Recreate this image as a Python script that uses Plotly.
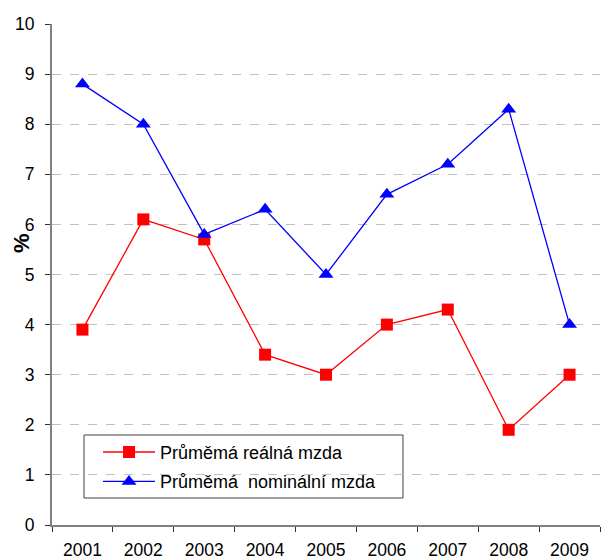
import plotly.graph_objects as go

# Years and wage growth (%)
years = ['2001', '2002', '2003', '2004', '2005', '2006', '2007', '2008', '2009']
real_wage = [3.9, 6.1, 5.7, 3.4, 3.0, 4.0, 4.3, 1.9, 3.0]
nominal_wage = [8.8, 8.0, 5.8, 6.3, 5.0, 6.6, 7.2, 8.3, 4.0]

FONT = 'Liberation Sans, Arial, sans-serif'

fig = go.Figure()

fig.add_trace(go.Scatter(
    x=years, y=real_wage, name='Průměmá reálná mzda',
    mode='lines+markers', legendgroup='a',
    line=dict(color='#ff0000', width=1.3),
    marker=dict(symbol='square', size=12, color='#ff0000')
))

fig.add_trace(go.Scatter(
    x=years, y=nominal_wage, name='Průměmá\u00a0 nominální mzda',
    mode='lines+markers', legendgroup='b',
    line=dict(color='#0000ff', width=1.3),
    marker=dict(symbol='triangle-up', size=13, color='#0000ff')
))

fig.update_xaxes(
    type='category', tickson='boundaries', ticks='outside', ticklen=5,
    tickcolor='#303030', showline=True, linecolor='#808080', linewidth=2,
    showgrid=False, tickfont=dict(family=FONT, size=17.5, color='black'),
    ticklabelstandoff=8,
    range=[-0.5, 8.5]
)

fig.update_yaxes(
    range=[0, 10], dtick=1, ticks='outside', ticklen=5, tickcolor='#303030',
    showline=True, linecolor='#808080', linewidth=2,
    showgrid=True, gridcolor='#c0c0c0', griddash='dash', gridwidth=1,
    zeroline=False, ticklabelstandoff=7,
    tickfont=dict(family=FONT, size=17.5, color='black')
)

# y-axis title
fig.add_annotation(
    text='<b>%</b>', xref='paper', yref='paper', x=-0.0547, y=0.563,
    xanchor='center', yanchor='middle',
    textangle=-90, showarrow=False,
    font=dict(family=FONT, size=22, color='black')
)

# legend frame
fig.add_shape(
    type='rect', xref='paper', yref='paper',
    x0=0.0584, x1=0.6405, y0=0.0539, y1=0.1796,
    line=dict(color='#404040', width=1), fillcolor='white', layer='below'
)

fig.update_layout(
    width=601, height=560,
    margin=dict(l=52, r=1, t=24, b=35),
    plot_bgcolor='white', paper_bgcolor='white',
    font=dict(family=FONT),
    showlegend=True,
    legend=dict(
        x=0.084, y=0.182, xanchor='left', yanchor='top',
        bgcolor='rgba(0,0,0,0)', borderwidth=0,
        font=dict(family=FONT, size=18, color='black'),
        itemwidth=52, traceorder='grouped', tracegroupgap=3
    )
)

fig.write_html("out.html", config={'displayModeBar': False},
               post_script="document.body.style.margin='0';")
